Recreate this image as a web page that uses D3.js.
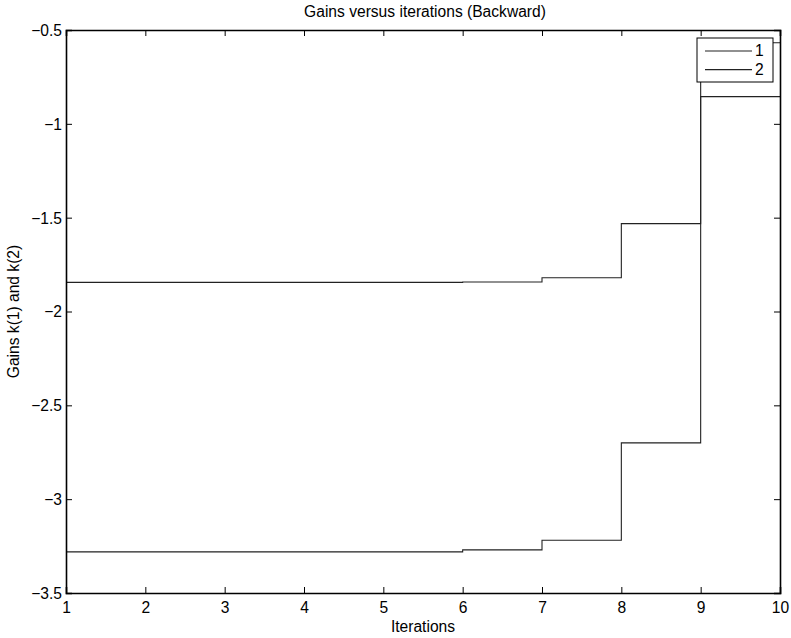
<!DOCTYPE html>
<html>
<head>
<meta charset="utf-8">
<script src="https://cdn.jsdelivr.net/npm/d3@7"></script>
<style>
  html, body { margin: 0; padding: 0; background: #fff; }
  svg { display: block; font-family: "Liberation Sans", Arial, Helvetica, sans-serif; }
</style>
</head>
<body>
<svg id="chart" width="791" height="638"></svg>
<script>
// ---- data ----
const iterations = [1, 2, 3, 4, 5, 6, 7, 8, 9, 10];
const gain1 = [-1.845, -1.845, -1.845, -1.845, -1.845, -1.843, -1.820, -1.532, -0.568, -0.568];
const gain2 = [-3.281, -3.281, -3.281, -3.281, -3.281, -3.270, -3.219, -2.700, -0.855, -0.855];
const seriesNames = ["1", "2"];
const xTicks = [1, 2, 3, 4, 5, 6, 7, 8, 9, 10];
const yTicks = [-3.5, -3, -2.5, -2, -1.5, -1, -0.5];
const titleText = "Gains versus iterations (Backward)";
const xLabel = "Iterations";
const yLabel = "Gains k(1) and k(2)";

// ---- layout ----
const L = 66, R = 780, T = 30, B = 593;
const fs = 15.6;
const svg = d3.select("#chart");

const x = d3.scaleLinear().domain([1, 10]).range([L, R]);
const y = d3.scaleLinear().domain([-3.5, -0.5]).range([B, T]);

// series
const line = d3.line()
  .x((d, i) => x(iterations[i]))
  .y(d => y(d))
  .curve(d3.curveStepAfter);

const plot = svg.append("g");
[gain1, gain2].forEach(s => {
  plot.append("path")
    .datum(s)
    .attr("d", line)
    .attr("fill", "none")
    .attr("stroke", "#222")
    .attr("stroke-width", 1.1);
});

// axes (box with inward ticks)
const tickLen = 6;
const fmt = d3.format("");
const axB = svg.append("g").attr("transform", `translate(0,${B})`)
  .call(d3.axisBottom(x).tickValues(xTicks).tickSize(-tickLen).tickPadding(9).tickFormat(fmt));
const axT = svg.append("g").attr("transform", `translate(0,${T})`)
  .call(d3.axisTop(x).tickValues(xTicks).tickSize(-tickLen).tickFormat(""));
const axL = svg.append("g").attr("transform", `translate(${L},0)`)
  .call(d3.axisLeft(y).tickValues(yTicks).tickSize(-tickLen).tickPadding(4).tickFormat(fmt));
const axR = svg.append("g").attr("transform", `translate(${R},0)`)
  .call(d3.axisRight(y).tickValues(yTicks).tickSize(-tickLen).tickFormat(""));

[axB, axT, axL, axR].forEach(a => {
  a.select(".domain").attr("stroke", "#000").attr("stroke-width", 1.6);
  a.selectAll(".tick line").attr("stroke", "#000").attr("stroke-width", 1);
  a.selectAll("text").attr("font-size", fs).attr("fill", "#000")
    .attr("font-family", "'Liberation Sans', Arial, Helvetica, sans-serif");
});
axB.selectAll("text").attr("dy", "0.71em");
axL.selectAll("text").attr("dy", "0.35em");

// legend
const lg = svg.append("g");
lg.append("rect")
  .attr("x", 697).attr("y", 38).attr("width", 76).attr("height", 44)
  .attr("fill", "#fff").attr("stroke", "#000").attr("stroke-width", 1);
seriesNames.forEach((n, i) => {
  const yy = 51 + i * 18.6;
  lg.append("line").attr("x1", 705).attr("x2", 752).attr("y1", yy).attr("y2", yy)
    .attr("stroke", "#222").attr("stroke-width", 1.1);
  lg.append("text").attr("x", 755).attr("y", yy).attr("dy", "0.35em")
    .attr("font-size", fs).text(n);
});

// titles
svg.append("text").attr("x", (L + R) / 2 + 2).attr("y", 16.5)
  .attr("text-anchor", "middle").attr("font-size", fs).text(titleText);
svg.append("text").attr("x", (L + R) / 2).attr("y", 631.5)
  .attr("text-anchor", "middle").attr("font-size", fs).text(xLabel);
svg.append("text")
  .attr("transform", `translate(19,${(T + B) / 2}) rotate(-90)`)
  .attr("text-anchor", "middle").attr("font-size", fs).text(yLabel);
</script>
</body>
</html>
